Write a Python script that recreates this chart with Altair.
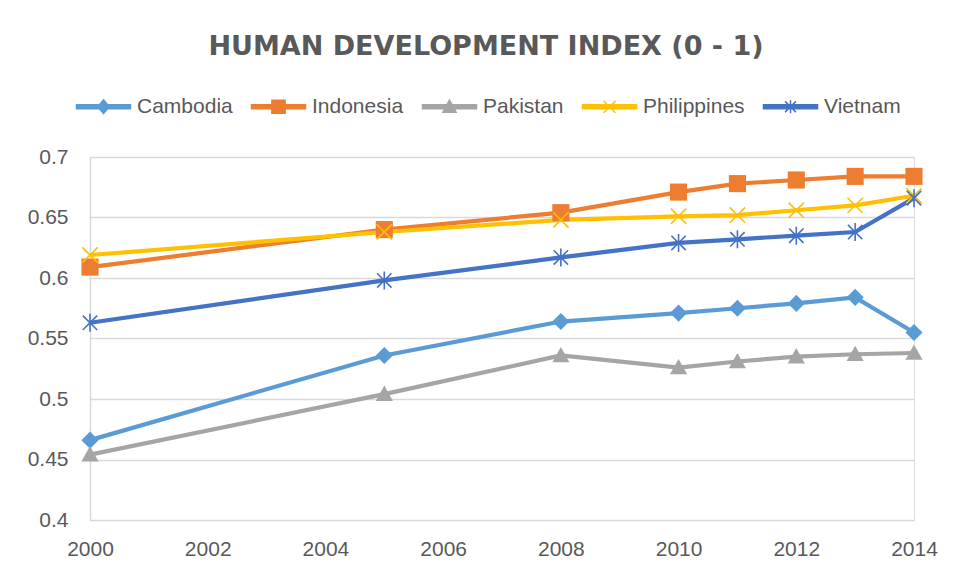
import altair as alt
import pandas as pd

years = [2000, 2005, 2008, 2010, 2011, 2012, 2013, 2014]
countries = ["Cambodia", "Indonesia", "Pakistan", "Philippines", "Vietnam"]
cambodia = [0.466, 0.536, 0.564, 0.571, 0.575, 0.579, 0.584, 0.555]
indonesia = [0.609, 0.640, 0.654, 0.671, 0.678, 0.681, 0.684, 0.684]
pakistan = [0.454, 0.504, 0.536, 0.526, 0.531, 0.535, 0.537, 0.538]
philippines = [0.619, 0.638, 0.648, 0.651, 0.652, 0.656, 0.660, 0.668]
vietnam = [0.563, 0.598, 0.617, 0.629, 0.632, 0.635, 0.638, 0.666]
colors = ["#5B9BD5", "#ED7D31", "#A5A5A5", "#FFC000", "#4472C4"]
x_ticks = [2000, 2002, 2004, 2006, 2008, 2010, 2012, 2014]
y_ticks = [0.4, 0.45, 0.5, 0.55, 0.6, 0.65, 0.7]
title_text = "HUMAN DEVELOPMENT INDEX (0 - 1)"

series = [cambodia, indonesia, pakistan, philippines, vietnam]
rows = []
for c, vals in zip(countries, series):
    for yr, v in zip(years, vals):
        rows.append({"Country": c, "Year": yr, "Value": v})
df = pd.DataFrame(rows)

# marker shapes (plot)
markers = {
    "Cambodia": "M0,-0.95L0.95,0L0,0.95L-0.95,0Z",
    "Indonesia": "M-0.95,-0.95L0.95,-0.95L0.95,0.95L-0.95,0.95Z",
    "Pakistan": "M0,-0.95L0.95,0.75L-0.95,0.75Z",
    "Philippines": "M-0.85,-0.85L0.85,0.85M-0.85,0.85L0.85,-0.85",
    "Vietnam": "M-0.8,-0.8L0.8,0.8M-0.8,0.8L0.8,-0.8M0,-1L0,1",
}
filled_marker = {"Cambodia": True, "Indonesia": True, "Pakistan": True,
                 "Philippines": False, "Vietnam": False}

# legend symbols: line segment + marker
bar = "M-4.5,-0.33L4.5,-0.33L4.5,0.33L-4.5,0.33Z"
legend_paths = [
    bar + "M0,-1.15L0.95,0L0,1.15L-0.95,0Z",
    bar + "M-1.1,-1.1L1.1,-1.1L1.1,1.1L-1.1,1.1Z",
    bar + "M0,-1.1L1.1,0.9L-1.1,0.9Z",
    bar + "M-1,-1L1,1M-1,1L1,-1",
    bar + "M-0.9,-0.9L0.9,0.9M-0.9,0.9L0.9,-0.9M0,-1.1L0,1.1",
]

FONT = "Liberation Sans"
TXT = "#595959"

X = alt.X("Year:Q", scale=alt.Scale(domain=[2000, 2014], nice=False, zero=False),
          axis=alt.Axis(values=x_ticks, format="d", title=None, grid=False, ticks=False,
                        domain=False, labelPadding=18, labelFontSize=21, labelFont=FONT,
                        labelColor=TXT, labelFlush=False, labelOverlap=False))
Y = alt.Y("Value:Q", scale=alt.Scale(domain=[0.4, 0.7], nice=False, zero=False),
          axis=alt.Axis(values=y_ticks, format="~g", title=None, grid=True, gridColor="#d9d9d9",
                        gridWidth=1.5, ticks=False, domain=True, domainColor="#d9d9d9",
                        domainWidth=1.5, labelPadding=22, labelFontSize=21, labelFont=FONT,
                        labelColor=TXT, labelFlush=False))

stroke_scale = alt.Scale(domain=countries, range=colors)
fill_scale = alt.Scale(domain=countries, range=colors)

leg = alt.Legend(title=None, orient="none", legendX=3, legendY=-61, direction="horizontal",
                 columns=5, columnPadding=15, labelOffset=23, labelFontSize=21,
                 labelFont=FONT, labelColor=TXT, symbolSize=144, symbolStrokeWidth=1.5,
                 symbolOpacity=1, padding=0)

base = alt.Chart(df)

lines = base.mark_line(strokeWidth=4.2).encode(
    x=X, y=Y, stroke=alt.Stroke("Country:N", scale=stroke_scale, legend=leg))

point_layers = []
for c in countries:
    sub = base.transform_filter(alt.datum.Country == c)
    if filled_marker[c]:
        p = sub.mark_point(shape=markers[c], size=324, filled=True, opacity=1).encode(
            x=X, y=Y, fill=alt.Fill("Country:N", scale=fill_scale, legend=leg))
    else:
        p = sub.mark_point(shape=markers[c], size=324, filled=False, opacity=1,
                           strokeWidth=1.6).encode(
            x=X, y=Y, stroke=alt.Stroke("Country:N", scale=stroke_scale, legend=leg))
    point_layers.append(p)

legend_layer = base.mark_point(filled=True, opacity=0, size=144).encode(
    x=X, y=Y,
    fill=alt.Fill("Country:N", scale=fill_scale, legend=leg),
    stroke=alt.Stroke("Country:N", scale=stroke_scale, legend=leg),
    shape=alt.Shape("Country:N", scale=alt.Scale(domain=countries, range=legend_paths),
                    legend=leg),
)

chart = alt.layer(lines, *point_layers, legend_layer).properties(
    width=824, height=363,
    title=alt.Title(title_text, font="DejaVu Sans", fontSize=27, fontWeight="bold",
                    color=TXT, anchor="middle", frame="group", offset=35, dx=-16),
    autosize=alt.AutoSizeParams(type="none"),
    padding={"left": 82, "top": 149, "right": 34, "bottom": 50},
).configure_view(stroke=None).configure(background="white")

chart.save("out.html", embed_options={"renderer": "svg", "actions": False})
